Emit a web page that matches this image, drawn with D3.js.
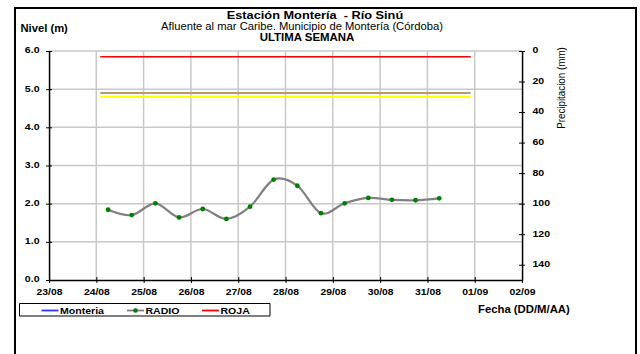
<!DOCTYPE html>
<html>
<head>
<meta charset="utf-8">
<script src="https://cdn.jsdelivr.net/npm/d3@7"></script>
<style>
  body { margin: 0; background: #fff; }
  svg { display: block; }
  text { font-family: "Liberation Sans", Arial, sans-serif; fill: #000; }
  .nss { vector-effect: non-scaling-stroke; }
</style>
</head>
<body>
<script>
// ---- data ----
radioDates = ["2019-08-24T06:00", "2019-08-24T18:00", "2019-08-25T06:00", "2019-08-25T18:00",
  "2019-08-26T06:00", "2019-08-26T18:00", "2019-08-27T06:00", "2019-08-27T18:00",
  "2019-08-28T06:00", "2019-08-28T18:00", "2019-08-29T06:00", "2019-08-29T18:00",
  "2019-08-30T06:00", "2019-08-30T18:00", "2019-08-31T06:00"];
radioLevels = [1.84, 1.70, 2.01, 1.64, 1.86, 1.60, 1.92, 2.63, 2.47, 1.75, 2.01, 2.15, 2.10, 2.09, 2.14];

thresholdNames = ["ROJA", "NARANJA", "AMARILLA"];
thresholdLevels = [5.85, 4.9, 4.8];
thresholdColors = ["#ff0000", "#bb9a70", "#ffff00"];
thresholdSpan = ["2019-08-24T02:00", "2019-08-31T22:00"];

xDomain = ["2019-08-23T00:00", "2019-09-02T00:00"];
levelTicks = [0, 1, 2, 3, 4, 5, 6];
rainTicks = [0, 20, 40, 60, 80, 100, 120, 140];

legendNames = ["Monteria", "RADIO", "ROJA"];
legendColors = ["#3333ff", "#808080", "#ff0000"];

titleLines = ["Estación Montería  - Río Sinú", "Afluente al mar Caribe. Municipio de Montería (Córdoba)", "ULTIMA SEMANA"];

// the original picture is a bit wider than tall, so x is squeezed into a narrower viewBox
SX = 1.1;
W = 640; H = 354;
function hx(px) { return px / SX; }

margin = {top: 51, right: 522, bottom: 280, left: 49};

parse = d3.isoParse;

svg = d3.select("body").append("svg")
  .attr("width", W)
  .attr("height", H)
  .attr("viewBox", "0 0 " + (W / SX) + " " + H)
  .attr("preserveAspectRatio", "none");

// outer frame
svg.append("rect")
  .attr("class", "nss")
  .attr("x", hx(15)).attr("y", 8)
  .attr("width", hx(636 - 15)).attr("height", 400)
  .attr("fill", "none").attr("stroke", "#000").attr("stroke-width", 2);

x = d3.scaleTime()
  .domain(xDomain.map(parse))
  .range([hx(margin.left), hx(margin.right)]);

y = d3.scaleLinear()
  .domain([0, 6])
  .range([margin.bottom, margin.top]);

yRain = d3.scaleLinear()
  .domain([0, 150])
  .range([margin.top, margin.bottom]);

// grid
grid = svg.append("g").attr("class", "grid");
days = d3.timeDay.range(d3.timeDay.offset(x.domain()[0], 1), x.domain()[1]);
grid.selectAll(".vgrid")
  .data(days)
  .enter().append("line")
  .attr("class", "nss")
  .attr("x1", d => x(d)).attr("x2", d => x(d))
  .attr("y1", margin.top).attr("y2", margin.bottom)
  .attr("stroke", "#c8c8c8").attr("stroke-width", 1.5);
grid.selectAll(".hgrid")
  .data(levelTicks.slice(1))
  .enter().append("line")
  .attr("class", "nss")
  .attr("x1", hx(margin.left)).attr("x2", hx(margin.right))
  .attr("y1", d => y(d)).attr("y2", d => y(d))
  .attr("stroke", "#c8c8c8").attr("stroke-width", 1.5);

// threshold lines
svg.selectAll(".threshold")
  .data(thresholdLevels)
  .enter().append("line")
  .attr("class", "threshold nss")
  .attr("x1", x(parse(thresholdSpan[0])))
  .attr("x2", x(parse(thresholdSpan[1])))
  .attr("y1", d => y(d)).attr("y2", d => y(d))
  .attr("stroke", (d, i) => thresholdColors[i])
  .attr("stroke-width", (d, i) => i == 0 ? 1.6 : 2);

// axes
function styleAxis(g, fontSize) {
  g.select(".domain").attr("class", "domain nss").attr("stroke", "#000").attr("stroke-width", 1.5);
  g.selectAll(".tick line").attr("class", "nss").attr("stroke", "#000").attr("stroke-width", 1);
  g.selectAll(".tick text")
    .style("font-family", "'Liberation Sans', Arial, sans-serif")
    .style("font-weight", "bold")
    .style("font-size", fontSize + "px")
    .attr("fill", "#000");
}

xAxis = d3.axisBottom(x)
  .ticks(d3.timeDay.every(1))
  .tickFormat(d3.timeFormat("%d/%m"))
  .tickSizeOuter(0);
gx = svg.append("g")
  .attr("transform", "translate(0," + margin.bottom + ")")
  .call(xAxis);
styleAxis(gx, 9.4);
gx.selectAll(".tick line").attr("y1", -3).attr("y2", 3);
gx.selectAll(".tick text").attr("y", 15).attr("dy", 0);

yAxis = d3.axisLeft(y)
  .tickValues(levelTicks)
  .tickFormat(d3.format(".1f"))
  .tickSizeOuter(0);
gy = svg.append("g")
  .attr("transform", "translate(" + hx(margin.left) + ",0)")
  .call(yAxis);
styleAxis(gy, 9.6);
gy.selectAll(".tick line").attr("x1", hx(3)).attr("x2", hx(-3));
gy.selectAll(".tick text").attr("x", hx(-9.5)).attr("dy", "0.2em");

yRainAxis = d3.axisRight(yRain)
  .tickValues(rainTicks)
  .tickSizeOuter(0);
gr = svg.append("g")
  .attr("transform", "translate(" + hx(margin.right) + ",0)")
  .call(yRainAxis);
styleAxis(gr, 9.6);
gr.selectAll(".tick line").attr("x1", hx(-3)).attr("x2", hx(3));
gr.selectAll(".tick text").attr("x", hx(10.5)).attr("dy", "0.2em");

// series RADIO
radio = radioDates.map((d, i) => ({date: parse(d), value: radioLevels[i]}));

line = d3.line()
  .curve(d3.curveCatmullRom.alpha(0))
  .x(d => x(d.date))
  .y(d => y(d.value));

svg.append("path")
  .datum(radio)
  .attr("class", "nss")
  .attr("d", line)
  .attr("fill", "none")
  .attr("stroke", "#808080")
  .attr("stroke-width", 2.2);

svg.selectAll(".dot")
  .data(radio)
  .enter().append("ellipse")
  .attr("cx", d => x(d.date))
  .attr("cy", d => y(d.value))
  .attr("rx", hx(2.4)).attr("ry", 2.4)
  .attr("fill", "#008000");

// titles
titleX = [315, 302, 307];
titleY = [19.5, 30.5, 41.5];
titleSize = [11.6, 10.2, 10.4];
titleWeight = ["bold", "normal", "bold"];
svg.selectAll(".title")
  .data(titleLines)
  .enter().append("text")
  .attr("x", (d, i) => hx(titleX[i]))
  .attr("y", (d, i) => titleY[i])
  .attr("text-anchor", "middle")
  .style("font-size", (d, i) => titleSize[i] + "px")
  .style("font-weight", (d, i) => titleWeight[i])
  .style("white-space", "pre")
  .text(d => d);

svg.append("text")
  .attr("x", hx(20.5)).attr("y", 32.5)
  .style("font-size", "10.2px").style("font-weight", "bold")
  .text("Nivel (m)");

svg.append("text")
  .attr("transform", "translate(" + hx(565) + ",88) rotate(-90)")
  .attr("text-anchor", "middle")
  .style("font-size", "9.8px")
  .text("Precipitacion (mm)");

svg.append("text")
  .attr("x", hx(478)).attr("y", 313)
  .style("font-size", "10.3px").style("font-weight", "bold")
  .text("Fecha (DD/M/AA)");

// legend
legend = svg.append("g");
legend.append("rect")
  .attr("class", "nss")
  .attr("x", hx(19.5)).attr("y", 303.5)
  .attr("width", hx(270 - 19.5)).attr("height", 12.5)
  .attr("fill", "#fff").attr("stroke", "#000").attr("stroke-width", 1);

legendLineX = [41.5, 127, 202];
legendItem = legend.selectAll(".item")
  .data(legendNames)
  .enter().append("g");
legendItem.append("line")
  .attr("class", "nss")
  .attr("x1", (d, i) => hx(legendLineX[i]))
  .attr("x2", (d, i) => hx(legendLineX[i] + 17))
  .attr("y1", 310.5).attr("y2", 310.5)
  .attr("stroke", (d, i) => legendColors[i])
  .attr("stroke-width", 1.8);
legendItem.filter(d => d == "RADIO").append("ellipse")
  .attr("cx", (d) => hx(legendLineX[1] + 8.5))
  .attr("cy", 310.5)
  .attr("rx", hx(2.3)).attr("ry", 2.3)
  .attr("fill", "#008000");
legendItem.append("text")
  .attr("x", (d, i) => hx(legendLineX[i] + 18.5))
  .attr("y", 313.8)
  .style("font-size", "9.6px").style("font-weight", "bold")
  .text(d => d);
</script>
</body>
</html>
